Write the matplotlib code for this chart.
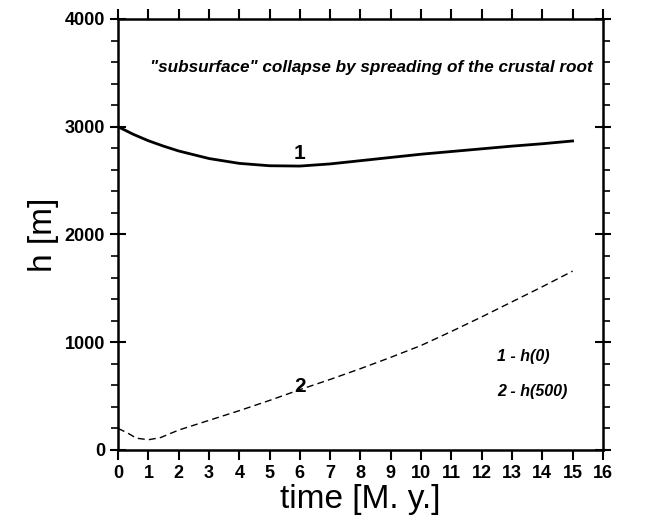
import matplotlib.pyplot as plt
from matplotlib.ticker import MultipleLocator

plt.rcParams['font.family'] = ['Liberation Sans', 'DejaVu Sans']

# curve 1 - h(0)
t1 = [0, 0.5, 1, 1.5, 2, 3, 4, 5, 6, 7, 8, 9, 10, 11, 12, 13, 14, 15]
h1 = [3000, 2930, 2870, 2820, 2775, 2705, 2660, 2638, 2635, 2655, 2685, 2715, 2745, 2770, 2795, 2820, 2842, 2868]

# curve 2 - h(500)
t2 = [0, 0.3, 0.6, 1, 1.4, 2, 3, 4, 5, 6, 7, 8, 9, 10, 11, 12, 13, 14, 15]
h2 = [200, 160, 110, 95, 115, 185, 275, 365, 460, 560, 655, 755, 860, 970, 1100, 1235, 1375, 1515, 1660]

fig = plt.figure(figsize=(6.56, 5.26), dpi=100)
ax = fig.add_axes([0.180, 0.1445, 0.739, 0.8194])

ax.plot(t1, h1, color='black', lw=2.0)
ax.plot(t2, h2, color='black', lw=1.0, ls=(0, (5, 3)))

ax.set_xlim(0, 16)
ax.set_ylim(0, 4000)
ax.xaxis.set_major_locator(MultipleLocator(1))
ax.yaxis.set_major_locator(MultipleLocator(1000))
ax.yaxis.set_minor_locator(MultipleLocator(200))

ax.tick_params(axis='x', which='major', direction='out', length=7, width=1.5,
               top=True, labelsize=13)
ax.tick_params(axis='y', which='major', direction='inout', length=12, width=1.5,
               right=True, labelsize=13)
ax.tick_params(axis='y', which='minor', direction='out', length=5, width=1.2,
               left=True, right=True)
for lab in ax.get_xticklabels() + ax.get_yticklabels():
    lab.set_fontweight('bold')
for s in ax.spines.values():
    s.set_linewidth(1.8)

ax.set_xlabel('time [M. y.]', fontsize=24, labelpad=2)
ax.set_ylabel('h [m]', fontsize=24, labelpad=4)

ax.text(8.35, 3550, '"subsurface" collapse by spreading of the crustal root',
        ha='center', va='center', fontsize=12.3, fontweight='bold', style='italic')
ax.text(6.0, 2750, '1', ha='center', va='center', fontsize=15, fontweight='bold')
ax.text(6.0, 590, '2', ha='center', va='center', fontsize=15, fontweight='bold')
ax.text(12.5, 870, '1 - h(0)', ha='left', va='center', fontsize=11.5,
        fontweight='bold', style='italic')
ax.text(12.5, 540, '2 - h(500)', ha='left', va='center', fontsize=11.5,
        fontweight='bold', style='italic')

fig.savefig('out.png', dpi=100)
